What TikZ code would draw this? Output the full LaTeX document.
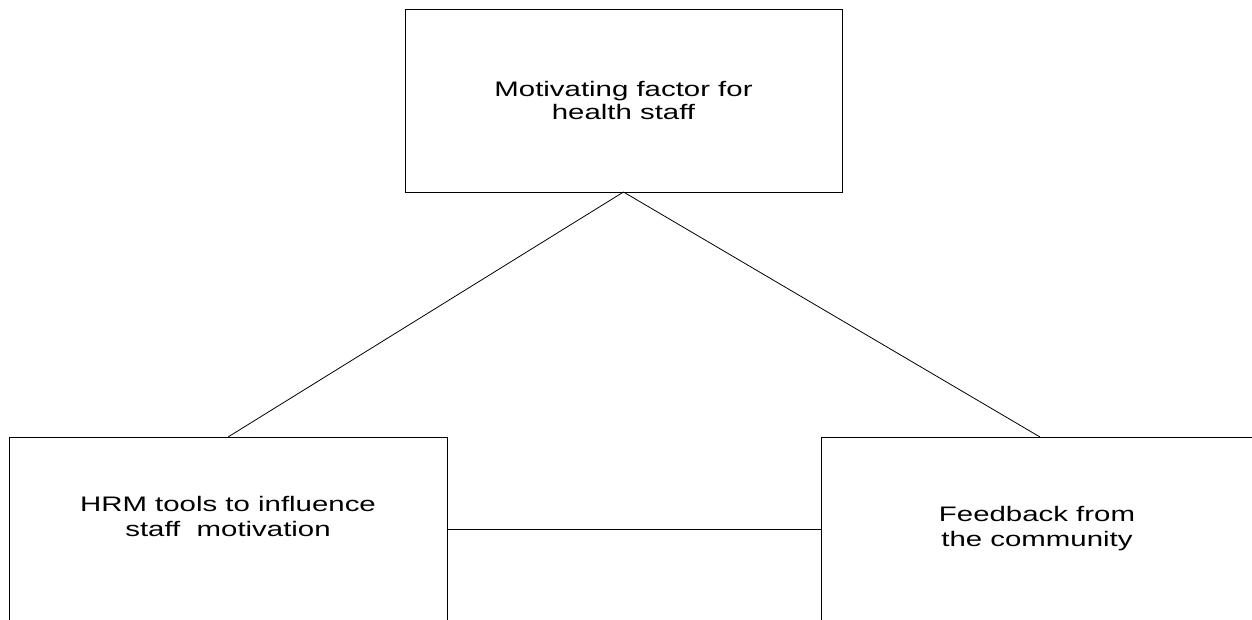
\documentclass[tikz,border=0pt]{standalone}
\usepackage{fontspec}
\newfontfamily\widesans[FakeStretch=1.4]{Liberation Sans}
\begin{document}
\begin{tikzpicture}[x=1pt,y=-1pt,
  box/.style={draw=black, line width=0.9pt, fill=white, rectangle, outer sep=0pt, inner sep=0pt},
  txt/.style={align=center, inner sep=0pt, font=\widesans\fontsize{21}{#1}\selectfont},
  txt/.default=25,
  link/.style={draw=black, line width=0.8pt}]
\useasboundingbox (0,0) rectangle (1252,619);
\fill[white] (0,0) rectangle (1252,619);
\begin{scope}
\clip (0,0) rectangle (1252,619);
\node[box, minimum width=437pt, minimum height=183pt] (top) at (623.5,100.5) {};
\node[box, minimum width=438pt, minimum height=184pt] (left) at (228,529) {};
\node[box, minimum width=432pt, minimum height=184pt] (right) at (1037,529) {};
\node[txt=23] (toptxt) at (top.center) {Motivating factor for\\health staff};
\node[txt=25, yshift=12.5pt] (lefttxt) at (left.center) {HRM tools to influence\\staff~ motivation};
\node[txt=25] (righttxt) at (right.center) {Feedback from\\the community};
\draw[link] (top.south) -- (left.north);
\draw[link] (top.south) -- ([xshift=3pt]right.north);
\draw[link] (left.east) -- (right.west);
\end{scope}
\end{tikzpicture}
\end{document}
